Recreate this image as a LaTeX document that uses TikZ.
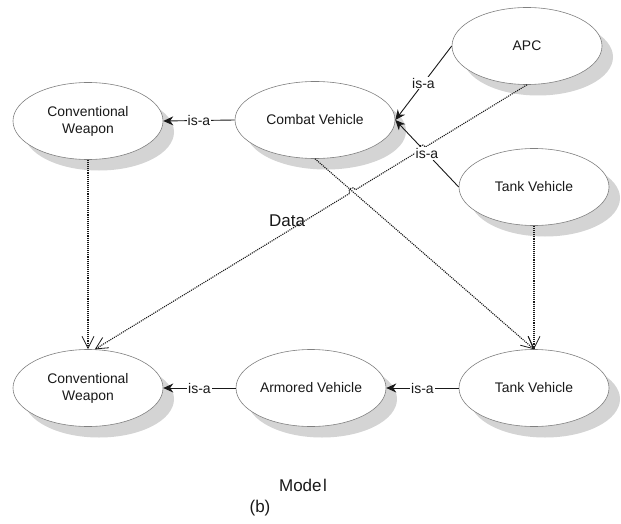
\documentclass[tikz,border=0pt]{standalone}
\usepackage{fontspec}
\setmainfont{Liberation Sans}
\usetikzlibrary{arrows.meta,shadows,calc,intersections,shapes.geometric}

\begin{document}
\begin{tikzpicture}[x=1pt,y=-1pt,
  concept/.style={ellipse, draw=black!50, line width=0.6pt, fill=white,
    minimum width=150pt, minimum height=77pt, inner sep=0pt, align=center,
    font=\fontsize{13.9}{17}\selectfont, text=black!90,
    drop shadow={shadow xshift=11pt, shadow yshift=-11pt, fill=black!17, opacity=1, draw=none}},
  isa/.style={line width=0.9pt, draw=black!90, -{Stealth[length=10pt,width=9pt]}},
  lbl/.style={fill=white, inner sep=1pt, font=\fontsize{14}{16}\selectfont, text=black!90},
  dep/.style={densely dotted, line width=1.1pt, draw=black!90,
    -{Straight Barb[length=12pt,width=12pt,line width=0.8pt]}},
  datalbl/.style={font=\fontsize{17}{20}\selectfont, text=black!90, inner sep=0pt},
  caption/.style={font=\fontsize{17}{20}\selectfont, text=black!90, inner sep=0pt}]

\useasboundingbox[fill=white] (0,0) rectangle (621,524);

% concepts
\node[concept] (cwt) at (88,121) {Conventional\\Weapon};
\node[concept, minimum width=160pt] (comb) at (315,120) {Combat Vehicle};
\node[concept] (apc) at (527,46) {APC};
\node[concept] (tankt) at (534,187) {Tank Vehicle};
\node[concept] (cwb) at (88,388) {Conventional\\Weapon};
\node[concept] (arm) at (311,388) {Armored Vehicle};
\node[concept] (tankb) at (534,388) {Tank Vehicle};

% crossing points of the data link with the other links
\path[name path=tankisa] (tankt.west) -- (comb.east);
\path[name path=combdep] (comb.south) -- (tankb.north);
\path[name path=datap] (apc.south) -- (cwb.80);
\path[name intersections={of=datap and tankisa, by=X1}];
\path[name intersections={of=datap and combdep, by=X2}];

% dependency links
\draw[dep] (cwt.south) -- (cwb.north);
\draw[dep] (tankt.south) -- (tankb.north);
\draw[dep] (comb.south) -- (tankb.north);
\draw[dep] (apc.south) -- ($(X1)!3.5pt!(apc.south)$)
  to[bend right=90,looseness=1.8] ($(X1)!-3.5pt!(apc.south)$)
  -- ($(X2)!3.5pt!(apc.south)$)
  to[bend right=90,looseness=1.8] ($(X2)!-3.5pt!(apc.south)$)
  -- (cwb.80);
\node[datalbl] (data) at (287,221) {Data};

% is-a links
\draw[isa] (comb.west) -- node[lbl] (l1) {is-a} (cwt.east);
\draw[isa] (apc.west) -- node[lbl] (l2) {is-a} (comb.east);
\draw[isa] (tankt.west) -- node[lbl] (l3) {is-a} (comb.east);
\draw[isa] (arm.west) -- node[lbl] (l4) {is-a} (cwb.east);
\draw[isa] (tankb.west) -- node[lbl] (l5) {is-a} (arm.east);

% captions
\node[caption] (model) at (303,485) {Mode\kern1.5pt l};
\node[caption] (sub) at (260,508) {(b)};
\end{tikzpicture}
\end{document}
